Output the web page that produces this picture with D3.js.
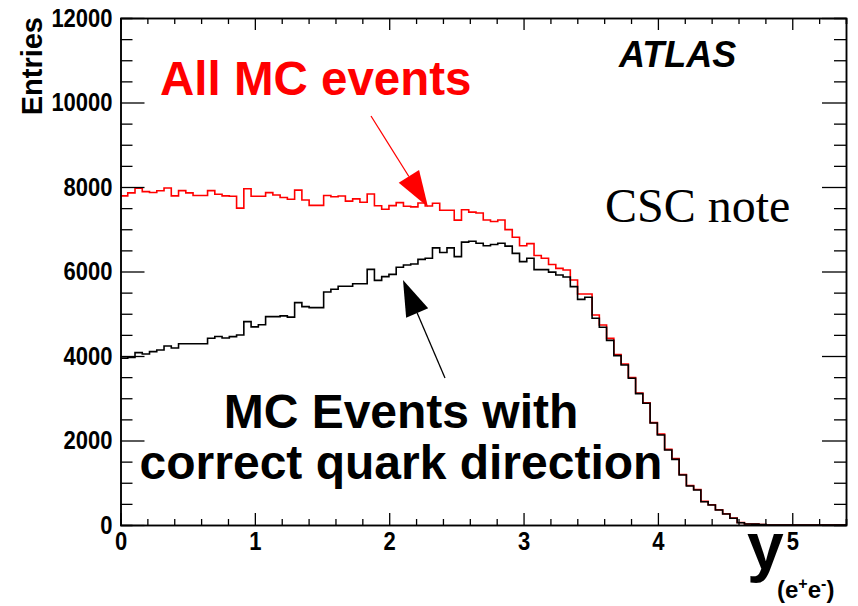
<!DOCTYPE html>
<html>
<head>
<meta charset="utf-8">
<script src="https://cdn.jsdelivr.net/npm/d3@7"></script>
<style>
  html, body { margin: 0; padding: 0; background: #fff; }
  svg text { font-family: "Liberation Sans", Arial, Helvetica, sans-serif; }
  .tall { transform-box: fill-box; transform-origin: center; transform: scaleY(1.15); }
</style>
</head>
<body>
<svg id="chart" width="858" height="606"></svg>
<script>
// Histogram: 100 bins of rapidity y(e+e-) between 0 and 5.4
const binLow = 0;
const binHigh = 5.4;
const nBins = 100;

// All MC events (entries per bin)
const allEvents = [
  7790, 7860, 7970, 7890, 7870, 7910, 7975, 7790, 7915, 7860,
  7800, 7800, 7915, 7830, 7790, 7780, 7500, 7960, 7780, 7780,
  7866, 7810, 7750, 7710, 7925, 7693, 7565, 7565, 7800, 7770,
  7788, 7665, 7720, 7640, 7835, 7555, 7472, 7560, 7630, 7545,
  7530, 7620, 7551, 7614, 7450, 7450, 7215, 7460, 7405, 7385,
  7220, 7185, 7219, 6990, 6809, 6610, 6660, 6380, 6312, 6165,
  6075, 6036, 5799, 5468, 5468, 4971, 4734, 4418, 4036, 3811,
  3490, 3125, 2890, 2422, 2150, 1790, 1575, 1195, 935, 840,
  560, 480, 360, 265, 162, 60, 25, 20, 12, 0,
  0, 0, 0, 0, 0, 0, 0, 0, 0, 0
];

// MC events with correct quark direction (entries per bin)
const correctDir = [
  3950, 3965, 4079, 4048, 4103, 4142, 4237, 4190, 4290, 4290,
  4290, 4290, 4420, 4460, 4425, 4458, 4497, 4813, 4690, 4740,
  4931, 4931, 4950, 4920, 5263, 5168, 5145, 5145, 5515, 5580,
  5650, 5650, 5710, 5710, 6051, 5790, 5878, 5933, 6099, 6154,
  6178, 6288, 6312, 6560, 6450, 6560, 6351, 6695, 6715, 6670,
  6610, 6640, 6667, 6600, 6430, 6233, 6312, 6045, 6045, 5985,
  5918, 5870, 5641, 5341, 5389, 4892, 4679, 4370, 4010, 3787,
  3472, 3110, 2880, 2414, 2130, 1775, 1554, 1184, 923, 828,
  552, 473, 355, 260, 158, 55, 25, 20, 12, 0,
  0, 0, 0, 0, 0, 0, 0, 0, 0, 0
];

// Axis ticks
const xMajorTicks = [0, 1, 2, 3, 4, 5];
const xMinorStep = 0.2;
const yMajorTicks = [0, 2000, 4000, 6000, 8000, 10000, 12000];
const yMinorStep = 500;

const svg = d3.select("#chart");
const frameL = 120.5, frameR = 846, frameT = 18, frameB = 525;

const x = d3.scaleLinear().domain([binLow, binHigh]).range([frameL, frameR]);
const y = d3.scaleLinear().domain([0, 12000]).range([frameB, frameT]);

const xMinorTicks = d3.range(0, binHigh + 1e-9, xMinorStep).filter(v => Math.abs(v - Math.round(v)) > 1e-6);
const yMinorTicks = d3.range(0, 12000 + 1, yMinorStep).filter(v => v % 2000 !== 0);

// histogram outline as step path
const binW = (binHigh - binLow) / nBins;
function stepPoints(vals) {
  const pts = vals.map((v, i) => [binLow + i * binW, v]);
  pts.push([binHigh, vals[vals.length - 1]]);
  return pts;
}
const line = d3.line().x(d => x(d[0])).y(d => y(d[1])).curve(d3.curveStepAfter);

svg.append("path").attr("d", line(stepPoints(allEvents)))
  .attr("fill", "none").attr("stroke", "#ff0000").attr("stroke-width", 1.6);
svg.append("path").attr("d", line(stepPoints(correctDir)))
  .attr("fill", "none").attr("stroke", "#000").attr("stroke-width", 1.6);

// axes (ticks pointing inward)
function styleAxis(g) {
  g.select(".domain").attr("stroke", "#000").attr("stroke-width", 1.5);
  g.selectAll(".tick line").attr("stroke", "#000").attr("stroke-width", 1.3);
}
const tickFont = g => g.selectAll("text")
  .attr("class", "tall")
  .attr("font-size", 22).attr("font-weight", "bold").attr("fill", "#000")
  .attr("font-family", "'Liberation Sans', Arial, sans-serif");

// bottom
svg.append("g").attr("transform", `translate(0,${frameB})`)
  .call(d3.axisBottom(x).tickValues(xMinorTicks).tickSize(-6).tickFormat(""))
  .call(styleAxis);
svg.append("g").attr("transform", `translate(0,${frameB})`)
  .call(d3.axisBottom(x).tickValues(xMajorTicks).tickSize(-12).tickSizeOuter(0).tickPadding(8).tickFormat(d3.format("d")))
  .call(styleAxis).call(tickFont);
// top
svg.append("g").attr("transform", `translate(0,${frameT})`)
  .call(d3.axisTop(x).tickValues(xMinorTicks).tickSize(-6).tickFormat(""))
  .call(styleAxis);
svg.append("g").attr("transform", `translate(0,${frameT})`)
  .call(d3.axisTop(x).tickValues(xMajorTicks).tickSize(-12).tickSizeOuter(0).tickFormat(""))
  .call(styleAxis);
// left
svg.append("g").attr("transform", `translate(${frameL},0)`)
  .call(d3.axisLeft(y).tickValues(yMinorTicks).tickSize(-12).tickFormat(""))
  .call(styleAxis);
svg.append("g").attr("transform", `translate(${frameL},0)`)
  .call(d3.axisLeft(y).tickValues(yMajorTicks).tickSize(-24).tickSizeOuter(0).tickPadding(8).tickFormat(d3.format("d")))
  .call(styleAxis).call(tickFont);
// right
svg.append("g").attr("transform", `translate(${frameR},0)`)
  .call(d3.axisRight(y).tickValues(yMinorTicks).tickSize(-12).tickFormat(""))
  .call(styleAxis);
svg.append("g").attr("transform", `translate(${frameR},0)`)
  .call(d3.axisRight(y).tickValues(yMajorTicks).tickSize(-24).tickSizeOuter(0).tickFormat(""))
  .call(styleAxis);

// axis titles
svg.append("text").attr("transform", "translate(42,17) rotate(-90)")
  .attr("text-anchor", "end").attr("font-size", 29).attr("font-weight", "bold")
  .text("Entries");

svg.append("text").attr("x", 747).attr("y", 569)
  .attr("font-size", 66).attr("font-weight", "bold").text("y");
const sub = svg.append("text").attr("x", 777).attr("y", 598)
  .attr("font-size", 24).attr("font-weight", "bold");
sub.append("tspan").text("(e");
sub.append("tspan").attr("dy", -9).attr("font-size", 16).text("+");
sub.append("tspan").attr("dy", 9).text("e");
sub.append("tspan").attr("dy", -9).attr("font-size", 16).text("-");
sub.append("tspan").attr("dy", 9).text(")");

// labels
svg.append("text").attr("x", 160).attr("y", 95)
  .attr("font-size", 47.5).attr("font-weight", "bold").attr("fill", "#ff0000")
  .text("All MC events");
svg.append("text").attr("x", 619).attr("y", 67)
  .attr("font-size", 36).attr("font-weight", "bold").attr("font-style", "italic")
  .text("ATLAS");
svg.append("text").attr("x", 605).attr("y", 222)
  .attr("font-size", 48)
  .style("font-family", "'Liberation Serif', 'Times New Roman', serif")
  .text("CSC note");
svg.append("text").attr("x", 401).attr("y", 428).attr("text-anchor", "middle")
  .attr("font-size", 48).attr("font-weight", "bold").text("MC Events with");
svg.append("text").attr("x", 401).attr("y", 479).attr("text-anchor", "middle")
  .attr("font-size", 48).attr("font-weight", "bold").text("correct quark direction");

// arrows pointing at the two histograms
function arrow(x0, y0, x1, y1, color, headLen, headW) {
  const a = Math.atan2(y1 - y0, x1 - x0);
  const bx = x1 - headLen * Math.cos(a), by = y1 - headLen * Math.sin(a);
  const px = -Math.sin(a) * headW / 2, py = Math.cos(a) * headW / 2;
  svg.append("line").attr("x1", x0).attr("y1", y0).attr("x2", bx).attr("y2", by)
    .attr("stroke", color).attr("stroke-width", 1.3);
  svg.append("path")
    .attr("d", `M${x1},${y1}L${bx + px},${by + py}L${bx - px},${by - py}Z`)
    .attr("fill", color);
}
arrow(371, 116, 428, 207, "#ff0000", 36, 24);
arrow(445, 378, 403, 280, "#000", 36, 24);
</script>
</body>
</html>
